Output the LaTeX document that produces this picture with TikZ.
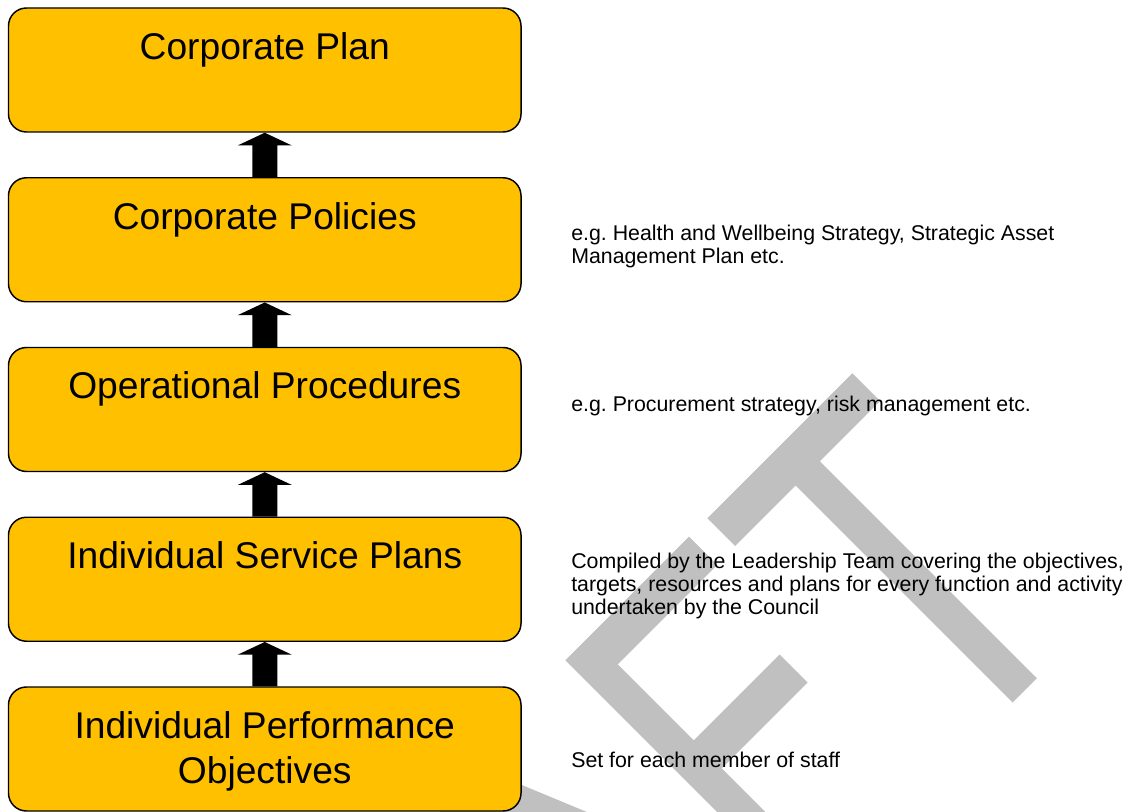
\documentclass[tikz,border=0pt]{standalone}
\usepackage{fontspec}
\setmainfont{Liberation Sans}
\usetikzlibrary{calc}
\definecolor{gold}{HTML}{FFC000}
\definecolor{wmgrey}{HTML}{C0C0C0}
\newcommand{\upblock}[2]{%
  \fill[blockarrow] ($(#1.north)+(-12.5,0)$) -- ($(#2.south)+(-12.5,12.7)$) -- ($(#2.south)+(-27,12.7)$) -- (#2.south) -- ($(#2.south)+(27,12.7)$) -- ($(#2.south)+(12.5,12.7)$) -- ($(#1.north)+(12.5,0)$) -- cycle;}
\begin{document}
\frenchspacing
\begin{tikzpicture}[x=0.75pt,y=-0.75pt,
  planbox/.style={draw=black, line width=1.1pt, fill=gold, rounded corners=13.5pt,
    minimum width=384.4pt, minimum height=93pt, inner sep=0pt},
  boxtext/.style={font=\fontsize{27.9pt}{33.75pt}\selectfont, inner sep=0pt, anchor=base},
  sidetext/.style={font=\fontsize{16pt}{17.25pt}\selectfont\frenchspacing, inner sep=0pt, anchor=base west},
  blockarrow/.style={fill=black},
  watermark/.style={fill=wmgrey}]
\useasboundingbox (0,0) rectangle (1135,812);
% watermark (partial letters A, F, T)
\fill[watermark] (707.25,518.25) -- (852.25,373.25) -- (880,401) -- (819.85,461.15)
  -- (1036.85,678.15) -- (1012.5,702.5) -- (795.5,485.5) -- (735,546) -- cycle;
\fill[watermark] (565.25,660.25) -- (688.9,536.6) -- (717.15,564.85) -- (617.65,664.35)
  -- (693.65,740.35) -- (779.5,654.5) -- (807.5,682.5) -- (721.65,768.35)
  -- (834.15,880.85) -- (810,905) -- cycle;
\fill[watermark] (440,751) -- (700,859) -- (440,900) -- cycle;
% boxes
\node[planbox] (b1) at (264.75,70) {};
\node[planbox] (b2) at (264.75,239.75) {};
\node[planbox] (b3) at (264.75,409.5) {};
\node[planbox] (b4) at (264.75,579.25) {};
\node[planbox] (b5) at (264.75,749) {};
% box texts
\node[boxtext] (t1) at ($(b1.north)+(0,52)$) {Corporate Plan};
\node[boxtext] (t2) at ($(b2.north)+(0,52)$) {Corporate Policies};
\node[boxtext] (t3) at ($(b3.north)+(0,52)$) {Operational Procedures};
\node[boxtext] (t4) at ($(b4.north)+(0,52)$) {Individual Service Plans};
\node[boxtext] (t5) at ($(b5.north)+(0,52.3)$) {\begin{tabular}[t]{@{}c@{}}Individual Performance\\Objectives\end{tabular}};
% arrows
\upblock{b2}{b1}
\upblock{b3}{b2}
\upblock{b4}{b3}
\upblock{b5}{b4}
% side notes
\node[sidetext] (s2) at (571,240.5) {\begin{tabular}[t]{@{}l@{}}e.g. Health and Wellbeing Strategy, Strategic Asset\\Management Plan etc.\end{tabular}};
\node[sidetext] (s3) at (571,412) {e.g. Procurement strategy, risk management etc.};
\node[sidetext] (s4) at (571,568.5) {\begin{tabular}[t]{@{}l@{}}Compiled by the Leadership Team covering the objectives,\\targets, resources and plans for every function and activity\\undertaken by the Council\end{tabular}};
\node[sidetext] (s5) at (571,767.5) {Set for each member of staff};
\end{tikzpicture}
\end{document}
